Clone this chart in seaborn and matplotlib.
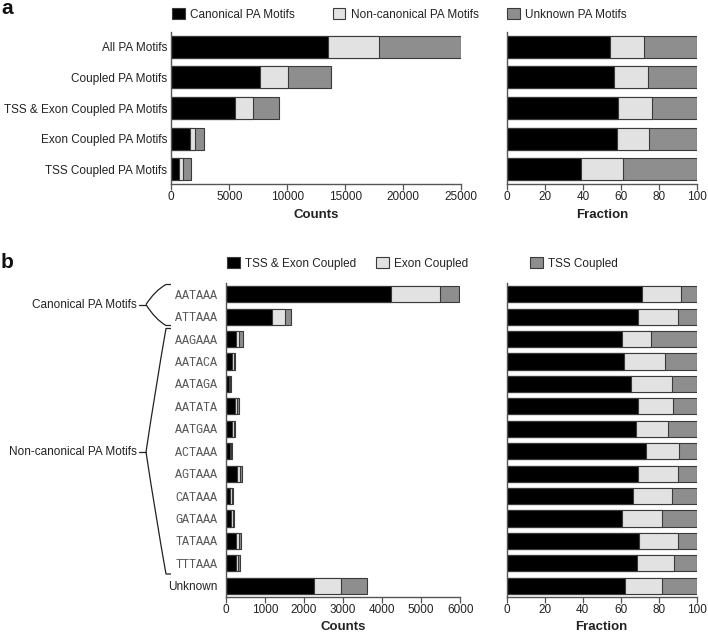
import numpy as np
import pandas as pd
import matplotlib
matplotlib.use("Agg")
import matplotlib.pyplot as plt
import seaborn as sns
from matplotlib.patches import Patch, PathPatch
from matplotlib.path import Path

sns.set_theme(style="white")
plt.rcParams["font.family"] = ["Liberation Sans", "DejaVu Sans"]

# ---------------- data: panel a ----------------
a_categories = ["All PA Motifs", "Coupled PA Motifs", "TSS & Exon Coupled PA Motifs",
                "Exon Coupled PA Motifs", "TSS Coupled PA Motifs"]
a_canonical_counts = [13550, 7680, 5470, 1640, 665]
a_noncanonical_counts = [4400, 2420, 1580, 430, 370]
a_unknown_counts = [7050, 3655, 2270, 725, 640]
a_canonical_frac = [54.2, 56.0, 58.4, 57.9, 38.9]
a_noncanonical_frac = [17.9, 17.9, 17.6, 16.7, 21.8]
a_unknown_frac = [27.9, 26.1, 24.0, 25.4, 39.3]
a_legend = ["Canonical PA Motifs", "Non-canonical PA Motifs", "Unknown PA Motifs"]

# ---------------- data: panel b ----------------
b_categories = ["AATAAA", "ATTAAA", "AAGAAA", "AATACA", "AATAGA", "AATATA", "AATGAA",
                "ACTAAA", "AGTAAA", "CATAAA", "GATAAA", "TATAAA", "TTTAAA", "Unknown"]
b_tss_exon_counts = [4235, 1176, 275, 154, 91, 236, 166, 117, 283, 120, 134, 272, 254, 2266]
b_exon_counts = [1254, 341, 70, 54, 30, 62, 41, 28, 87, 37, 46, 79, 71, 683]
b_tss_counts = [470, 161, 110, 42, 19, 42, 38, 15, 40, 23, 40, 39, 45, 665]
b_tss_exon_frac = [71.4, 69.3, 60.8, 61.7, 65.3, 69.3, 67.9, 73.2, 69.0, 66.7, 60.7, 69.8, 68.6, 62.4]
b_exon_frac = [20.5, 20.9, 15.0, 21.6, 21.5, 18.4, 16.8, 17.6, 21.2, 20.5, 21.2, 20.2, 19.3, 19.5]
b_tss_frac = [8.1, 9.8, 24.2, 16.7, 13.2, 12.3, 15.3, 9.2, 9.8, 12.8, 18.1, 10.0, 12.1, 18.1]
b_legend = ["TSS & Exon Coupled", "Exon Coupled", "TSS Coupled"]
b_groups = ["Canonical PA Motifs", "Non-canonical PA Motifs"]

colors = ["#000000", "#e2e2e2", "#8e8e8e"]
EDGE = "#3a3a3a"
TXT = "#222222"

W, H = 708, 633
fig = plt.figure(figsize=(W / 100, H / 100), dpi=100)


def px_axes(left, top, right, bottom):
    return fig.add_axes([left / W, 1 - bottom / H, (right - left) / W, (bottom - top) / H])


def stacked(ax, cats, series):
    cum = np.zeros(len(cats))
    cums = []
    for s in series:
        cum = cum + np.asarray(s, dtype=float)
        cums.append(cum.copy())
    for c, col in reversed(list(zip(cums, colors))):
        df = pd.DataFrame({"cat": cats, "val": c})
        sns.barplot(data=df, x="val", y="cat", orient="h", color=col, saturation=1,
                    width=0.72, edgecolor=EDGE, linewidth=0.8, ax=ax)
    n = len(cats)
    ax.set_ylim(n - 0.51, -0.49)
    ax.set_ylabel("")


def style(ax, xlabel, xmax, ticks, show_y=True, mono=False, ypad=3):
    ax.set_xlim(0, xmax)
    ax.set_xticks(ticks)
    ax.set_xticklabels([str(t) for t in ticks])
    ax.set_xlabel(xlabel, fontsize=9.5, fontweight="bold", color=TXT, labelpad=4)
    for s in ["top", "right"]:
        ax.spines[s].set_visible(False)
    for s in ["left", "bottom"]:
        ax.spines[s].set_color("#555555")
        ax.spines[s].set_linewidth(1.0)
    ax.tick_params(axis="x", direction="out", length=4, width=0.9, color="#555555",
                   labelsize=8.5, labelcolor=TXT, pad=1, bottom=True)
    ax.tick_params(axis="y", length=0, pad=ypad, labelsize=8.5, labelcolor=TXT)
    if not show_y:
        ax.set_yticklabels([])
    elif mono:
        for lab in ax.get_yticklabels():
            lab.set_fontfamily(["Liberation Mono", "DejaVu Sans Mono"])
            lab.set_color("#555555")
            lab.set_fontsize(8.5)
    ax.grid(False)
    ax.set_facecolor("none")


# ---------------- panel a ----------------
ax1 = px_axes(171.3, 32, 461, 184)
stacked(ax1, a_categories, [a_canonical_counts, a_noncanonical_counts, a_unknown_counts])
style(ax1, "Counts", 25000, [0, 5000, 10000, 15000, 20000, 25000])

ax2 = px_axes(507.3, 32, 697.3, 184)
stacked(ax2, a_categories, [a_canonical_frac, a_noncanonical_frac, a_unknown_frac])
style(ax2, "Fraction", 100, [0, 20, 40, 60, 80, 100], show_y=False)

# ---------------- panel b ----------------
ax3 = px_axes(225.7, 283.3, 460.3, 596.7)
stacked(ax3, b_categories, [b_tss_exon_counts, b_exon_counts, b_tss_counts])
style(ax3, "Counts", 6000, [0, 1000, 2000, 3000, 4000, 5000, 6000], mono=True, ypad=6)
ax3.get_yticklabels()[-1].set_fontfamily(["Liberation Sans", "DejaVu Sans"])
ax3.get_yticklabels()[-1].set_color(TXT)

ax4 = px_axes(506.7, 283.3, 696.7, 596.7)
stacked(ax4, b_categories, [b_tss_exon_frac, b_exon_frac, b_tss_frac])
style(ax4, "Fraction", 100, [0, 20, 40, 60, 80, 100], show_y=False)

# ---------------- legends ----------------
def legend_entry(label, color, x, y):
    h = Patch(facecolor=color, edgecolor=EDGE, linewidth=0.8)
    fig.legend([h], [label], loc="center left", bbox_to_anchor=(x / W, 1 - y / H),
               frameon=False, borderpad=0, borderaxespad=0, handlelength=1.1,
               handleheight=1.0, handletextpad=0.45, fontsize=8.5, labelcolor=TXT)

for lab, col, x in zip(a_legend, colors, [172, 332.5, 507]):
    legend_entry(lab, col, x, 14.5)
for lab, col, x in zip(b_legend, colors, [227, 376, 530]):
    legend_entry(lab, col, x, 263.5)

# ---------------- overlay: panel letters and braces ----------------
ov = fig.add_axes([0, 0, 1, 1], zorder=-1)
ov.set_xlim(0, W)
ov.set_ylim(H, 0)
ov.axis("off")

ov.text(1, 9, "a", fontsize=15, fontweight="bold", ha="left", va="center", color="#111111")
ov.text(1, 262, "b", fontsize=15, fontweight="bold", ha="left", va="center", color="#111111")


def brace(apex_x, apex_y, top_y, bot_y, cx, cy, end_x=166, tip_x=171, label=None):
    for ey in (top_y, bot_y):
        dx, dy = end_x - apex_x, ey - apex_y
        verts = [(apex_x, apex_y), (apex_x + cx * dx, apex_y + cy * dy),
                 (end_x, ey), (tip_x, ey)]
        codes = [Path.MOVETO, Path.CURVE3, Path.CURVE3, Path.LINETO]
        ov.add_patch(PathPatch(Path(verts, codes), fill=False, edgecolor="#222222", linewidth=0.9))
    ov.plot([apex_x - 7, apex_x], [apex_y, apex_y], color="#222222", linewidth=0.9)
    ov.text(apex_x - 9.5, apex_y, label, ha="right", va="center", fontsize=8.5, color=TXT)


brace(146, 304.5, 284.5, 325.5, 0.45, 0.7, label=b_groups[0])
brace(146, 452, 328.5, 574, 0.5, 0.54, label=b_groups[1])

fig.savefig("out.png", dpi=100)
